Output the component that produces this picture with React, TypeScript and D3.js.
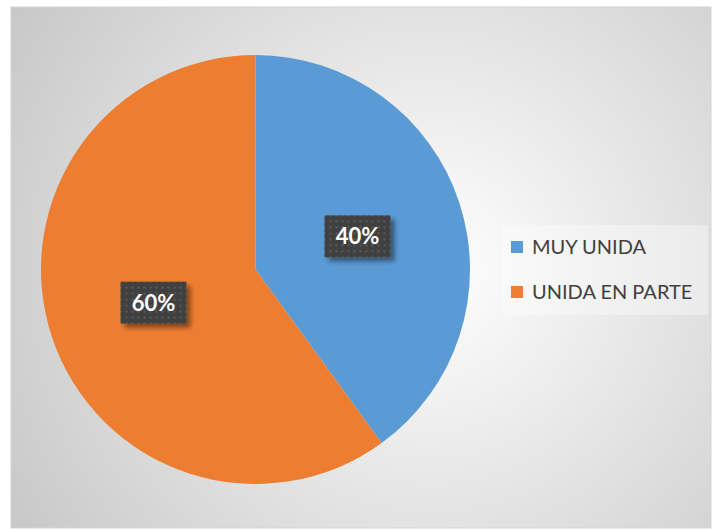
import React from "react";
import * as d3 from "d3";

const categories = ["MUY UNIDA", "UNIDA EN PARTE"];
const values = [40, 60];
const labels = ["40%", "60%"];
const colors = ["#5B9BD5", "#ED7D31"];

export default function App() {
  const W = 712, H = 529;
  const cx = 255.5, cy = 269.5, r = 214.5;
  const pie = d3.pie<number>().sort(null).startAngle(0).endAngle(2 * Math.PI);
  const arcs = pie(values);
  const arcGen = d3.arc<d3.PieArcDatum<number>>().innerRadius(0).outerRadius(r);
  const font = "Lato, 'Open Sans', sans-serif";
  return (
    <svg width={W} height={H} style={{ position: "absolute", left: 0, top: 0 }}>
      <defs>
        <radialGradient id="bg" gradientUnits="userSpaceOnUse" cx={430} cy={270} r={560}>
          <stop offset="0" stopColor="#ffffff" />
          <stop offset="1" stopColor="#c0c0c0" />
        </radialGradient>
        <pattern id="dots" width={6} height={6} patternUnits="userSpaceOnUse">
          <rect width={6} height={6} fill="#404040" />
          <rect x={2} y={2} width={2} height={2} fill="#5a5a5a" />
        </pattern>
        <filter id="shadow" x="-30%" y="-30%" width="160%" height="160%">
          <feDropShadow dx={4} dy={4} stdDeviation={2.5} floodColor="#000" floodOpacity={0.45} />
        </filter>
      </defs>
      <rect x={0} y={0} width={W} height={H} fill="#ffffff" />
      <rect x={11} y={7} width={700} height={521} fill="url(#bg)" stroke="#d4d4d4" strokeWidth={1} />
      <g transform={`translate(${cx},${cy})`}>
        {arcs.map((a, i) => (
          <path key={i} d={arcGen(a) || ""} fill={colors[i]} />
        ))}
        {arcs.map((a, i) => {
          const [x, y] = arcGen.centroid(a);
          const bw = 66, bh = 42;
          return (
            <g key={"l" + i} transform={`translate(${x},${y})`}>
              <rect x={-bw / 2} y={-bh / 2} width={bw} height={bh} fill="url(#dots)" filter="url(#shadow)" />
              <text x={0} y={8} textAnchor="middle" fill="#ffffff" fontFamily={font} fontWeight={700} fontSize={22}>
                {labels[i]}
              </text>
            </g>
          );
        })}
      </g>
      <rect x={502} y={225} width={206} height={90} fill="#ffffff" fillOpacity={0.35} />
      {categories.map((c, i) => (
        <g key={c} transform={`translate(511,${241 + i * 45})`}>
          <rect x={0} y={0} width={12} height={12} fill={colors[i]} />
          <text x={21} y={13} fill="#404040" fontFamily={font} fontSize={20}>
            {c}
          </text>
        </g>
      ))}
    </svg>
  );
}
